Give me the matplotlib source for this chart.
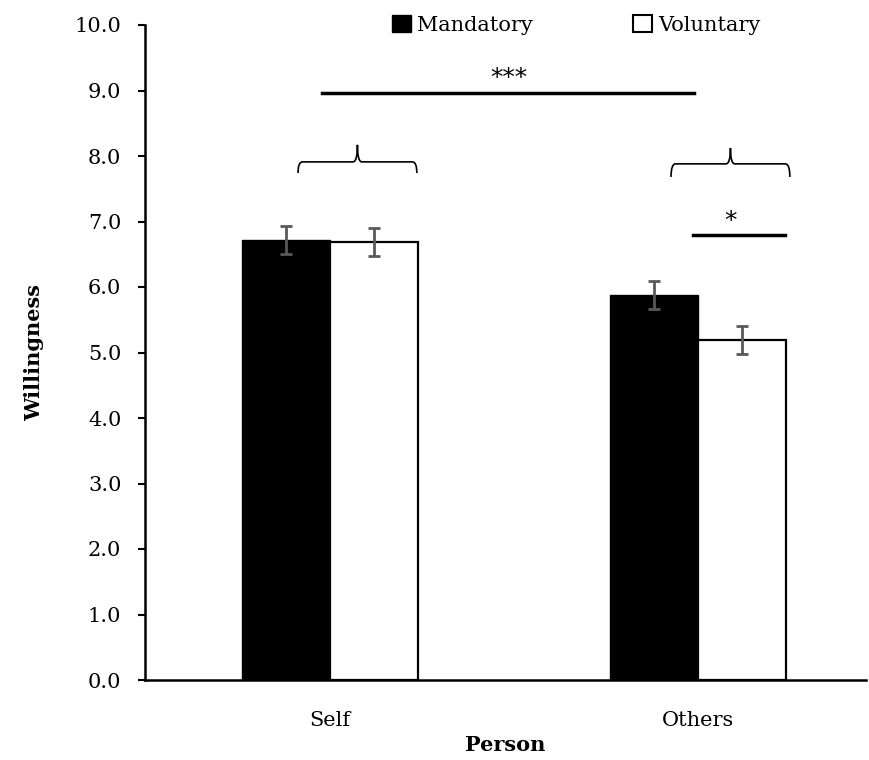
import matplotlib
matplotlib.use("Agg")
import matplotlib.pyplot as plt
from matplotlib.patches import Patch, PathPatch
from matplotlib.path import Path
import numpy as np

# 数据
categories = ["Self", "Others"]
mandatory = [6.72, 5.88]
voluntary = [6.69, 5.19]
mandatory_err = [0.21, 0.21]
voluntary_err = [0.21, 0.21]

plt.rcParams['font.family'] = ['DejaVu Serif']
plt.rcParams['font.size'] = 15


def brace(ax, x0, x1, y, tip, depth):
    """画一个花括号（开口向下）"""
    xm = (x0 + x1) / 2
    w = 0.012
    verts = [
        (x0, y - depth), (x0, y), (x0 + w, y),
        (xm - w, y), (xm, y), (xm, tip),
        (xm, tip), (xm, y), (xm + w, y),
        (x1 - w, y), (x1, y), (x1, y - depth),
    ]
    codes = [
        Path.MOVETO, Path.CURVE3, Path.CURVE3,
        Path.LINETO, Path.CURVE3, Path.CURVE3,
        Path.MOVETO, Path.CURVE3, Path.CURVE3,
        Path.LINETO, Path.CURVE3, Path.CURVE3,
    ]
    ax.add_patch(PathPatch(Path(verts, codes), facecolor='none', edgecolor='black', lw=1.2))


fig = plt.figure(figsize=(8.7, 7.6), dpi=100)
ax = fig.add_axes([145 / 870, 80 / 760, (866 - 145) / 870, 655 / 760])

x = np.arange(len(categories))
width = 0.24
err_kw = dict(ecolor='#595959', elinewidth=2, capsize=4.5, capthick=2)
ax.bar(x - width / 2, mandatory, width, color='black', edgecolor='black',
       yerr=mandatory_err, error_kw=err_kw, zorder=2)
ax.bar(x + width / 2, voluntary, width, color='white', edgecolor='black', lw=1.6,
       yerr=voluntary_err, error_kw=err_kw, zorder=2)

ax.set_xlim(-0.503, 1.457)
ax.set_ylim(0, 10)
ax.set_yticks(np.arange(0, 10.01, 1))
ax.set_yticklabels([f"{v:.1f}" for v in np.arange(0, 10.01, 1)])
ax.set_xticks(x)
ax.set_xticklabels(categories)
ax.tick_params(axis='x', length=0, pad=22)
ax.tick_params(axis='y', length=5, width=1.5, pad=12)

for s in ['top', 'right']:
    ax.spines[s].set_visible(False)
ax.spines['left'].set_linewidth(1.8)
ax.spines['bottom'].set_linewidth(1.8)

ax.set_ylabel("Willingness", fontweight='bold', labelpad=22)
ax.set_xlabel("Person", fontweight='bold', labelpad=4)

# 显著性标注
star_font = dict(family='DejaVu Sans', fontsize=18)
ax.plot([-0.022, 0.99], [8.96, 8.96], color='black', lw=2.5)
ax.text(0.485, 9.0, "***", ha='center', va='bottom', **star_font)
ax.plot([0.986, 1.236], [6.79, 6.79], color='black', lw=2.5)
ax.text(1.09, 6.83, "*", ha='center', va='bottom', **star_font)

brace(ax, -0.087, 0.236, 7.91, 8.17, 0.17)
brace(ax, 0.927, 1.25, 7.88, 8.12, 0.2)

handles = [Patch(facecolor='black', edgecolor='black'),
           Patch(facecolor='white', edgecolor='black', lw=1.5)]
ax.legend(handles, ["Mandatory", "Voluntary"], loc='center', bbox_to_anchor=(0.598, 1.0),
          ncol=2, frameon=False, handlelength=0.9, handleheight=0.9,
          handletextpad=0.3, columnspacing=4.8, fontsize=15)

fig.savefig("out.png", dpi=100)
